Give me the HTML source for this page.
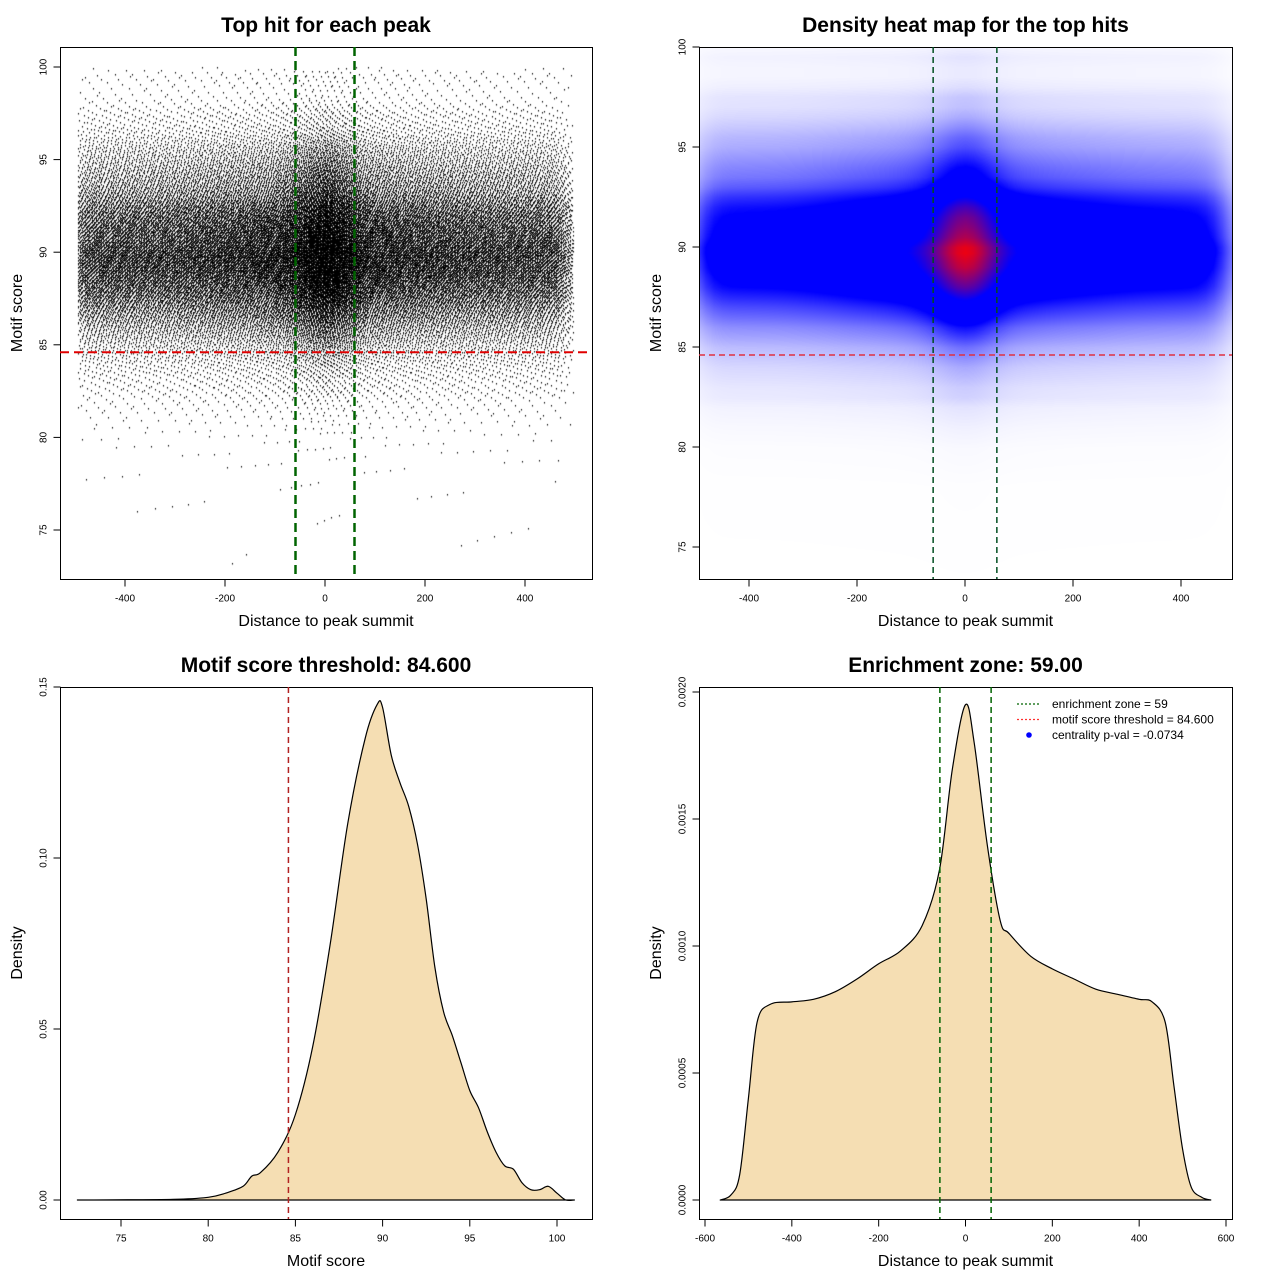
<!DOCTYPE html>
<html><head><meta charset="utf-8">
<style>
body{margin:0;background:#fff;width:1280px;height:1280px;overflow:hidden;position:relative;font-family:"Liberation Sans",sans-serif}
canvas{position:absolute}
svg{position:absolute;left:0;top:0}
</style></head>
<body>
<canvas id="scatter" width="532" height="532" style="left:60px;top:47px"></canvas>
<canvas id="heat" width="533" height="532" style="left:699px;top:47px"></canvas>
<svg id="svg" width="1280" height="1280"></svg>
<script>
// ---- data ----
const scoreGrid = [72.5,78,80,81,82,82.5,83,84,85,86,87,88,89,89.7,90,90.5,91,91.5,92,92.5,93,93.5,94,94.5,95,95.5,96,96.5,97,97.5,98,98.5,99,99.5,100,100.5,101];
const scoreDensity = [0,0.0002,0.0008,0.002,0.004,0.007,0.008,0.014,0.025,0.045,0.075,0.11,0.135,0.145,0.144,0.13,0.122,0.115,0.104,0.088,0.068,0.055,0.048,0.040,0.032,0.027,0.020,0.014,0.010,0.009,0.005,0.003,0.003,0.004,0.002,0,0];
const distGrid = [-565,-540,-520,-500,-480,-450,-400,-350,-300,-250,-200,-150,-100,-60,-30,0,20,50,80,100,150,200,250,300,350,400,430,460,480,500,520,545,565];
const distDensity = [0,0.00002,0.0001,0.0004,0.0007,0.00077,0.00078,0.00079,0.00082,0.00087,0.00093,0.00098,0.00108,0.0013,0.0017,0.00195,0.0018,0.0014,0.0011,0.00105,0.00096,0.00091,0.00087,0.00083,0.00081,0.00079,0.00078,0.0007,0.00045,0.0002,0.00005,0.00001,0];
const threshold = 84.6;
const zone = 59;
const pval = "-0.0734";
const p1XTicks = [-400,-200,0,200,400];
const p1YTicks = [75,80,85,90,95,100];
const p3XTicks = [75,80,85,90,95,100];
const p3YTicks = [0,0.05,0.10,0.15];
const p3YLabels = ["0.00","0.05","0.10","0.15"];
const p4XTicks = [-600,-400,-200,0,200,400,600];
const p4YTicks = [0,0.0005,0.001,0.0015,0.002];
const p4YLabels = ["0.0000","0.0005","0.0010","0.0015","0.0020"];

const NS="http://www.w3.org/2000/svg";
const svg=document.getElementById('svg');
function el(tag,attrs,parent,text){const e=document.createElementNS(NS,tag);for(const k in attrs)e.setAttribute(k,attrs[k]);if(text!==undefined)e.textContent=text;(parent||svg).appendChild(e);return e;}
function interp(g,v,x){if(x<=g[0])return v[0];if(x>=g[g.length-1])return v[v.length-1];for(let i=1;i<g.length;i++){if(x<=g[i]){const t=(x-g[i-1])/(g[i]-g[i-1]);return v[i-1]+t*(v[i]-v[i-1]);}}return 0;}
function lin(d0,d1,r0,r1){return v=>r0+(v-d0)*(r1-r0)/(d1-d0);}
function smoothPath(pts){let d='M'+pts[0][0].toFixed(1)+','+pts[0][1].toFixed(1);
  for(let i=0;i<pts.length-1;i++){const p0=pts[Math.max(0,i-1)],p1=pts[i],p2=pts[i+1],p3=pts[Math.min(pts.length-1,i+2)];
    const c1=[p1[0]+(p2[0]-p0[0])/6,p1[1]+(p2[1]-p0[1])/6],c2=[p2[0]-(p3[0]-p1[0])/6,p2[1]-(p3[1]-p1[1])/6];
    d+='C'+c1[0].toFixed(1)+','+c1[1].toFixed(1)+' '+c2[0].toFixed(1)+','+c2[1].toFixed(1)+' '+p2[0].toFixed(1)+','+p2[1].toFixed(1);}
  return d+'Z';}

function panel(name,box,title,xlabel,ylabel,sx,sy,xt,xl,yt,yl){
  const g=el('g',{},svg);
  
  
  const r=el('rect',{x:box[0]+.5,y:box[1]+.5,width:box[2]-box[0],height:box[3]-box[1],fill:'none',stroke:'#000','stroke-width':1},g);
  
  const t=el('text',{x:(box[0]+box[2])/2,y:box[1]-15,'text-anchor':'middle','font-size':21,'font-weight':'bold'},g,title);
  
  const xa=el('text',{x:(box[0]+box[2])/2,y:box[3]+47,'text-anchor':'middle','font-size':16},g,xlabel);
  
  const cy=(box[1]+box[3])/2;
  const ya=el('text',{x:box[0]-38,y:cy,'text-anchor':'middle','font-size':16,transform:`rotate(-90 ${box[0]-38} ${cy})`},g,ylabel);
  
  const by=box[3]+.5;
  el('line',{x1:sx(xt[0]),x2:sx(xt[xt.length-1]),y1:by,y2:by,stroke:'#000'},g);
  xt.forEach((v,i)=>{const x=sx(v);el('line',{x1:x,x2:x,y1:by,y2:by+7,stroke:'#000'},g);
    const tl=el('text',{x:x,y:by+22,'text-anchor':'middle','font-size':10},g,xl[i]);
    });
  const bx=box[0]+.5;
  el('line',{x1:bx,x2:bx,y1:sy(yt[0]),y2:sy(yt[yt.length-1]),stroke:'#000'},g);
  yt.forEach((v,i)=>{const y=sy(v);el('line',{x1:bx,x2:bx-7,y1:y,y2:y,stroke:'#000'},g);
    const tl=el('text',{x:bx-14,y:y,'text-anchor':'middle','font-size':10,transform:`rotate(-90 ${bx-14} ${y})`},g,yl[i]);
    });
  return g;
}
function vline(g,x,y0,y1,color,w,dash,name){const l=el('line',{x1:x,x2:x,y1:y0,y2:y1,stroke:color,'stroke-width':w,'stroke-dasharray':dash},g);}
function hline(g,y,x0,x1,color,w,dash,name){const l=el('line',{x1:x0,x2:x1,y1:y,y2:y,stroke:color,'stroke-width':w,'stroke-dasharray':dash},g);}

// ---- Panel 1: scatter ----
const s1x=lin(-400,400,125,525), s1y=lin(75,100,530,67);
function buildCdf(g,v,lo,hi,n){const xs=[],cs=[];let c=0;for(let i=0;i<=n;i++){const x=lo+(hi-lo)*i/n;c+=interp(g,v,x);xs.push(x);cs.push(c);}return {xs,cs:cs.map(q=>q/c)};}
function inv(cdf,u){const cs=cdf.cs;let lo=0,hi=cs.length-1;while(hi-lo>1){const m=(lo+hi)>>1;if(cs[m]<u)lo=m;else hi=m;}return cdf.xs[hi];}
const cdfS=buildCdf(scoreGrid,scoreDensity,73,100,1200);
const cdfD=buildCdf(distGrid,distDensity,-495,495,1200);
(function(){const c=document.getElementById('scatter').getContext('2d');c.fillStyle='#000';
  const N=52000;let a=0.5,b=0.5;
  for(let i=0;i<N;i++){a=(a+0.7548776662466927)%1;b=(b+0.5698402909980532)%1;
    const d=inv(cdfD,a), s=inv(cdfS,b);
    const px=Math.round(s1x(d)-60), py=Math.round(s1y(s)-47);
    c.fillRect(px,py,1,1.5);}
})();
const g1=panel('scatter-panel',[60,47,592,579],'Top hit for each peak','Distance to peak summit','Motif score',s1x,s1y,p1XTicks,p1XTicks.map(String),p1YTicks,p1YTicks.map(String));
hline(g1,s1y(threshold),60,592,'#e00000',2,'9 5','threshold-line');
vline(g1,s1x(-zone),47,579,'#006400',2.5,'9 5','zone-left-line');
vline(g1,s1x(zone),47,579,'#006400',2.5,'9 5','zone-right-line');

// ---- Panel 2: heatmap ----
const s2x=lin(-400,400,749,1181), s2y=lin(75,100,547,47);
(function(){const cv=document.getElementById('heat');const c=cv.getContext('2d');const W=533,H=532;const img=c.createImageData(W,H);
  const maxD=0.00195*0.145;
  for(let j=0;j<H;j++){const s=75+(547-(j+47))/20;
    const py=interp(scoreGrid,scoreDensity,s);
    for(let i=0;i<W;i++){const d=((i+699)-965)/0.54;
      let px=0;for(let k=-3;k<=3;k++)px+=interp(distGrid,distDensity,d+k*15)*Math.exp(-k*k/4);px/=3.54;
      const t=px*py/maxD;
      let r,g,b;
      if(t<0.3){const u=Math.pow(t/0.3,0.9);r=255*(1-u);g=255*(1-u);b=255;}
      else if(t<0.55){r=0;g=0;b=255;}
      else{const u=Math.min(1,(t-0.55)/0.4);r=255*u;g=0;b=255*(1-u);}
      const o=(j*W+i)*4;img.data[o]=r;img.data[o+1]=g;img.data[o+2]=b;img.data[o+3]=255;}}
  c.putImageData(img,0,0);})();
const g2=panel('heatmap-panel',[699,47,1232,579],'Density heat map for the top hits','Distance to peak summit','Motif score',s2x,s2y,p1XTicks,p1XTicks.map(String),p1YTicks,p1YTicks.map(String));
hline(g2,s2y(threshold),699,1232,'#e03040',1.5,'6 4','threshold-line');
vline(g2,s2x(-zone),47,579,'#004d20',1.5,'6 4','zone-left-line');
vline(g2,s2x(zone),47,579,'#004d20',1.5,'6 4','zone-right-line');

// ---- Panel 3: score density ----
const s3x=lin(75,100,121,557), s3y=lin(0,0.15,1200,687);
const g3=panel('score-density-panel',[60,687,592,1219],'Motif score threshold: 84.600','Motif score','Density',s3x,s3y,p3XTicks,p3XTicks.map(String),p3YTicks,p3YLabels);
(function(){const pts=scoreGrid.map((s,i)=>[s3x(s),s3y(scoreDensity[i])]);
  const p=el('path',{d:smoothPath(pts),fill:'#f5deb3',stroke:'#000','stroke-width':1.2,'stroke-linejoin':'round'},g3);
  })();
vline(g3,s3x(threshold),687,1219,'#b22222',1.5,'6 4','threshold-line');

// ---- Panel 4: distance density ----
const s4x=lin(-600,600,705,1226), s4y=lin(0,0.002,1200,692);
const g4=panel('distance-density-panel',[699,687,1232,1219],'Enrichment zone: 59.00','Distance to peak summit','Density',s4x,s4y,p4XTicks,p4XTicks.map(String),p4YTicks,p4YLabels);
(function(){const pts=distGrid.map((s,i)=>[s4x(s),s4y(distDensity[i])]);
  const p=el('path',{d:smoothPath(pts),fill:'#f5deb3',stroke:'#000','stroke-width':1.2,'stroke-linejoin':'round'},g4);
  })();
vline(g4,s4x(-zone),687,1219,'#006400',1.5,'6 4','zone-left-line');
vline(g4,s4x(zone),687,1219,'#006400',1.5,'6 4','zone-right-line');
(function(){const lg=el('g',{},g4);
  const items=[['line','#006400','enrichment zone = '+zone],['line','#ff3030','motif score threshold = '+threshold.toFixed(3)],['dot','#0000ff','centrality p-val = '+pval]];
  items.forEach((it,i)=>{const y=704+i*15.5;
    if(it[0]==='line')el('line',{x1:1017,x2:1041,y1:y,y2:y,stroke:it[1],'stroke-width':1.3,'stroke-dasharray':'2 2'},lg);
    else el('circle',{cx:1029,cy:y,r:2.8,fill:it[1]},lg);
    const t=el('text',{x:1052,y:y+4,'font-size':12},lg,it[2]);});})();
</script>
</body></html>
